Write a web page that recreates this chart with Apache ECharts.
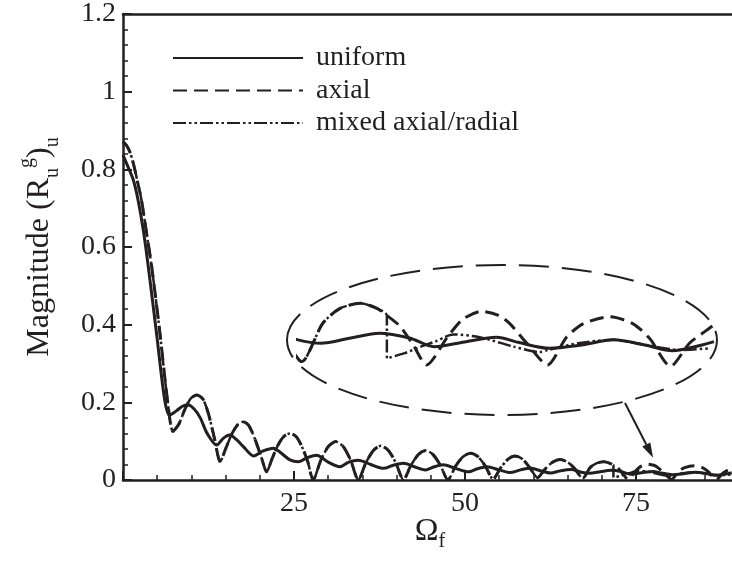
<!DOCTYPE html>
<html>
<head>
<meta charset="utf-8">
<script src="https://cdn.jsdelivr.net/npm/echarts@6/dist/echarts.min.js"></script>
<style>
  html, body { margin: 0; padding: 0; background: #ffffff; }
  #chart { width: 732px; height: 562px; }
</style>
</head>
<body>
<div id="chart"></div>
<script>
// Series names as shown in the legend
const seriesNames = ['uniform', 'axial', 'mixed axial/radial'];

// Labelled ticks on the frequency axis
const xTickLabels = [25, 50, 75];

// Magnitude vs. Omega_f, uniform excitation
const uniformData = [
  [0, 0.837], [0.5, 0.816], [1.5, 0.773], [2.2, 0.721], [3.0, 0.64], [3.7, 0.549],
  [4.9, 0.378], [6.1, 0.206], [6.8, 0.167], [7.8, 0.178], [8.7, 0.19], [9.5, 0.193],
  [10.4, 0.183], [11.3, 0.160], [12.3, 0.120], [13.7, 0.090], [14.7, 0.108], [15.6, 0.116],
  [16.6, 0.104], [17.6, 0.086], [19.1, 0.062], [20.5, 0.075], [22.0, 0.082], [23.2, 0.068],
  [24.4, 0.052], [25.6, 0.047], [27.0, 0.058], [28.3, 0.064], [30.0, 0.046], [31.7, 0.034],
  [33.0, 0.046], [34.4, 0.051], [36.2, 0.040], [38.1, 0.030], [39.5, 0.038], [41.0, 0.043],
  [42.6, 0.034], [44.2, 0.026], [45.5, 0.034], [46.8, 0.039], [48.6, 0.030], [50.5, 0.021],
  [51.8, 0.029], [53.2, 0.034], [55.0, 0.026], [56.6, 0.019], [58.1, 0.026], [59.6, 0.030],
  [61.0, 0.024], [62.5, 0.018], [64.0, 0.024], [65.5, 0.027], [67.0, 0.020], [68.2, 0.0175],
  [69.8, 0.0214], [71.3, 0.0249], [72.9, 0.0214], [74.2, 0.015], [75.8, 0.0185], [77.5, 0.022],
  [78.7, 0.018], [80.3, 0.0138], [81.9, 0.016], [83.7, 0.020], [85.4, 0.016], [86.8, 0.012],
  [88.3, 0.016], [89.0, 0.0187]
];

// Magnitude vs. Omega_f, axial excitation
const axialData = [
  [0, 0.871], [0.5, 0.862], [1.0, 0.845], [1.5, 0.816], [2.1, 0.77], [2.7, 0.721],
  [3.5, 0.63], [4.2, 0.549], [5.4, 0.378], [6.5, 0.206], [7.3, 0.125],
  [8.2, 0.145], [9.0, 0.180], [9.9, 0.210], [10.8, 0.219], [11.7, 0.208], [12.5, 0.170],
  [13.4, 0.105], [14.2, 0.047],
  [15.0, 0.080], [15.9, 0.118], [16.8, 0.143], [17.6, 0.150], [18.4, 0.140], [19.3, 0.105],
  [20.2, 0.060], [21.0, 0.021],
  [21.8, 0.055], [22.6, 0.088], [23.5, 0.112], [24.4, 0.120], [25.3, 0.112], [26.1, 0.088],
  [27.0, 0.048], [27.8, 0.0],
  [28.9, 0.050], [30.0, 0.086], [31.1, 0.099], [32.2, 0.086], [33.3, 0.050], [34.4, 0.0],
  [35.5, 0.044], [36.6, 0.076], [37.7, 0.088], [38.8, 0.076], [39.9, 0.044], [41.0, 0.0],
  [42.1, 0.038], [43.2, 0.066], [44.3, 0.076], [45.3, 0.066], [46.4, 0.038], [47.5, 0.0],
  [48.6, 0.035], [49.7, 0.060], [50.8, 0.069], [51.9, 0.060], [53.0, 0.035], [54.1, 0.002],
  [55.2, 0.031], [56.3, 0.054], [57.3, 0.062], [58.4, 0.054], [59.5, 0.031], [60.6, 0.006],
  [61.7, 0.028], [62.8, 0.046], [63.9, 0.053], [65.0, 0.046], [66.1, 0.028], [67.2, 0.004],
  [68.3, 0.032], [69.2, 0.043], [70.3, 0.047], [71.2, 0.043], [71.7, 0.038], [72.4, 0.030],
  [73.1, 0.016], [73.8, 0.0015], [74.9, 0.022], [75.7, 0.035], [76.7, 0.041], [77.6, 0.038],
  [78.2, 0.032], [79.1, 0.0175], [80.2, 0.0015], [81.2, 0.022], [82.1, 0.032], [83.5, 0.037],
  [84.7, 0.032], [85.6, 0.021], [86.7, 0.0005], [87.7, 0.0175], [88.6, 0.027], [89.0, 0.031]
];

// Mixed axial/radial excitation: follows the axial curve up to the jump at 71.7
const mixedBranchX = 71.7;
const mixedTail = [
  [71.7, 0.038], [71.7, 0.0064], [72.6, 0.010], [73.5, 0.015], [74.3, 0.019], [75.2, 0.024],
  [76.6, 0.022], [78.4, 0.015], [79.8, 0.011], [80.2, 0.0125], [81.9, 0.0177], [83.7, 0.020],
  [85.5, 0.016], [87.2, 0.0125], [88.8, 0.0138]
];
const mixedData = axialData.filter(p => p[0] < mixedBranchX).concat(mixedTail);

// Window shown magnified inside the dashed ellipse
const insetXRange = [67, 89];
const insetYRange = [0, 0.07];

const FONT = '"Liberation Serif", "Times New Roman", serif';
const INK = '#231f20';

const styles = [
  { width: 3, type: 'solid', smooth: 0.3 },
  { width: 3, type: [14, 7], smooth: 0.25 },
  { width: 2.5, type: [13, 3, 2.5, 3, 2.5, 3], smooth: 0.25 }
];
const datasets = [uniformData, axialData, mixedData];

function makeSeries(i, xi, yi) {
  return {
    name: seriesNames[i],
    type: 'line',
    xAxisIndex: xi,
    yAxisIndex: yi,
    data: datasets[i],
    symbol: 'none',
    showSymbol: false,
    smooth: styles[i].smooth,
    clip: true,
    silent: true,
    itemStyle: { color: INK },
    lineStyle: { color: INK, width: styles[i].width, type: styles[i].type },
    z: 3
  };
}

const chart = echarts.init(document.getElementById('chart'), null, { renderer: 'canvas' });

const option = {
  backgroundColor: '#ffffff',
  animation: false,
  grid: [
    { left: 123, top: 14, right: -75, bottom: 82, outerBoundsMode: 'none' },
    { left: 298, top: 272, width: 416, height: 95, outerBoundsMode: 'none' }
  ],
  legend: {
    data: seriesNames,
    orient: 'vertical',
    left: 167,
    top: 39,
    itemWidth: 130,
    itemHeight: 20,
    itemGap: 4.5,
    selectedMode: false,
    itemStyle: { opacity: 0 },
    textStyle: { fontFamily: FONT, fontSize: 28, lineHeight: 20, color: INK, padding: [0, 0, 0, 8] }
  },
  xAxis: [
    {
      type: 'value', gridIndex: 0, position: 'bottom',
      min: 0, max: 100, interval: 25,
      name: '{o|Ω}{f|f}',
      nameLocation: 'middle', nameGap: 32, nameMoveOverlap: false,
      nameTextStyle: {
        padding: [0, 70, 0, 0],
        rich: {
          o: { fontFamily: FONT, fontSize: 32, color: INK, lineHeight: 40, verticalAlign: 'middle' },
          f: { fontFamily: FONT, fontSize: 20, color: INK, lineHeight: 20, verticalAlign: 'bottom' }
        }
      },
      axisLine: { show: true, lineStyle: { color: INK, width: 2.5 } },
      axisTick: { show: true, inside: true, length: 9, lineStyle: { color: INK, width: 2 } },
      minorTick: { show: true, splitNumber: 5, length: 5, lineStyle: { color: INK, width: 1.5 } },
      splitLine: { show: false },
      axisLabel: {
        fontFamily: FONT, fontSize: 28, color: INK, margin: 10,
        formatter: v => (xTickLabels.indexOf(v) >= 0 ? String(v) : '')
      }
    },
    {
      type: 'value', gridIndex: 0, position: 'top',
      min: 0, max: 100, interval: 25,
      axisLine: { show: true, lineStyle: { color: INK, width: 2.5 } },
      axisTick: { show: false }, axisLabel: { show: false }, splitLine: { show: false }
    },
    {
      type: 'value', gridIndex: 1,
      min: insetXRange[0], max: insetXRange[1],
      show: false, splitLine: { show: false }
    }
  ],
  yAxis: [
    {
      type: 'value', gridIndex: 0,
      min: 0, max: 1.2, interval: 0.2,
      name: '{m|Magnitude (R}{s|u}{p|g}{m|)}{s|u}',
      nameLocation: 'middle', nameGap: 60, nameRotate: 90, nameMoveOverlap: false,
      nameTextStyle: {
        rich: {
          m: { fontFamily: FONT, fontSize: 32, color: INK, lineHeight: 46, verticalAlign: 'middle' },
          s: { fontFamily: FONT, fontSize: 20, color: INK, lineHeight: 20, verticalAlign: 'bottom' },
          p: { fontFamily: FONT, fontSize: 20, color: INK, lineHeight: 20, verticalAlign: 'top' }
        }
      },
      axisLine: { show: true, lineStyle: { color: INK, width: 2.5 } },
      axisTick: { show: true, inside: true, length: 9, lineStyle: { color: INK, width: 2 } },
      minorTick: { show: true, splitNumber: 5, length: 5, lineStyle: { color: INK, width: 1.5 } },
      splitLine: { show: false },
      axisLabel: { fontFamily: FONT, fontSize: 28, color: INK, margin: 7 }
    },
    {
      type: 'value', gridIndex: 1,
      min: insetYRange[0], max: insetYRange[1],
      show: false, splitLine: { show: false }
    }
  ],
  series: [
    makeSeries(0, 0, 0), makeSeries(1, 0, 0), makeSeries(2, 0, 0),
    makeSeries(0, 2, 1), makeSeries(1, 2, 1), makeSeries(2, 2, 1)
  ]
};

chart.setOption(option);

// Callout: dashed ellipse round the magnified window, arrow to the region it shows
const arrowTip = chart.convertToPixel({ xAxisIndex: 0, yAxisIndex: 0 }, [77.5, 0.057]);
const arrowTail = [625, 403];
const dx = arrowTip[0] - arrowTail[0], dy = arrowTip[1] - arrowTail[1];
const len = Math.sqrt(dx * dx + dy * dy);
const ux = dx / len, uy = dy / len;
const headLen = 15, headHalf = 4.5;
const bx = arrowTip[0] - ux * headLen, by = arrowTip[1] - uy * headLen;

chart.setOption({
  graphic: [
    {
      type: 'ellipse', silent: true, z: 10,
      shape: { cx: 502, cy: 340, rx: 215, ry: 75 },
      style: { fill: 'none', stroke: INK, lineWidth: 2, lineDash: [30, 13] }
    },
    {
      type: 'line', silent: true, z: 10,
      shape: { x1: arrowTail[0], y1: arrowTail[1], x2: bx, y2: by },
      style: { stroke: INK, lineWidth: 2 }
    },
    {
      type: 'polygon', silent: true, z: 10,
      shape: { points: [
        [arrowTip[0], arrowTip[1]],
        [bx - uy * headHalf, by + ux * headHalf],
        [bx + uy * headHalf, by - ux * headHalf]
      ] },
      style: { fill: INK }
    }
  ]
});
</script>
</body>
</html>
